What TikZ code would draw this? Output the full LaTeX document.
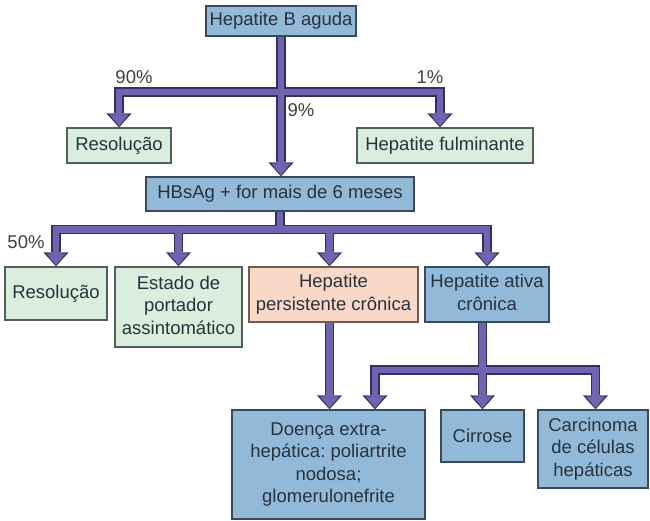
\documentclass[tikz,border=0pt]{standalone}
\usepackage{fontspec}
\setmainfont{Liberation Sans}
\usetikzlibrary{arrows.meta}

\definecolor{txt}{RGB}{40,50,62}
\definecolor{lbltxt}{RGB}{64,64,64}
\definecolor{grn}{RGB}{218,238,222}
\definecolor{grnb}{RGB}{80,95,88}
\definecolor{blu}{RGB}{146,186,216}
\definecolor{blub}{RGB}{58,74,92}
\definecolor{sal}{RGB}{250,216,200}
\definecolor{salb}{RGB}{110,92,86}
\definecolor{arrowc}{RGB}{110,100,176}
\definecolor{arrowb}{RGB}{52,46,98}

% centred stack of lines inside a box
\newcommand\linesc[1]{\begin{tabular}{@{}c@{}}#1\end{tabular}}

% all flow connectors; drawn twice (dark rim, then purple core)
\newcommand\flowlines[1]{%
  \begin{scope}[#1]
    \draw[arrowhd] (hba.south) -- (hba.south |- hbs.north);
    \draw[arrowhd] (j1) -| (res1.north);
    \draw[arrowhd] (j1) -| ([xshift=-5pt]fulm.north);
    \draw (hbs.south) -- (j2);
    \draw[arrowhd] (j2) -| (res2.north);
    \draw[arrowhd] (j2) -| (est.north);
    \draw[arrowhd] (j2) -| ([xshift=-4pt]pers.north);
    \draw[arrowhd] (j2) -| (ativa.north);
    \draw[arrowhd] ([xshift=-4pt]pers.south) -- ([xshift=-4pt]pers.south |- doenca.north);
    \draw[arrowhd] (ativa.south -| cirr.north) -- (cirr.north);
    \draw[arrowhd] (j3) -| ([xshift=46.5pt]doenca.north);
    \draw[arrowhd] (j3) -| ([xshift=2.5pt]carc.north);
  \end{scope}}

\begin{document}
\begin{tikzpicture}[x=1pt,y=-1pt,
  box/.style={draw, line width=1.4pt, inner sep=0pt, text=txt,
    font=\fontsize{18.5}{22.5}\selectfont\frenchspacing},
  greenbox/.style={box, fill=grn, draw=grnb},
  bluebox/.style={box, fill=blu, draw=blub},
  salbox/.style={box, fill=sal, draw=salb},
  lbl/.style={text=lbltxt, font=\fontsize{18.5}{22.5}\selectfont, inner sep=0pt},
  rimpass/.style={draw=arrowb, line width=9.5pt,
    arrowhd/.style={-{Triangle[width=25pt,length=14pt,line width=0.4pt]}}},
  corepass/.style={draw=arrowc, line width=6.5pt,
    arrowhd/.style={shorten >=1.3pt, -{Triangle[width=19pt,length=11.5pt,line width=0.4pt]}}}
]
\useasboundingbox[fill=white] (0,0) rectangle (650,520);

% boxes
\node[bluebox, minimum width=150pt, minimum height=30pt] (hba) at (281,21) {Hepatite B aguda};
\node[greenbox, minimum width=104pt, minimum height=35pt] (res1) at (119,145.5) {Resolução};
\node[greenbox, minimum width=176pt, minimum height=35pt] (fulm) at (445,145.5) {Hepatite fulminante};
\node[bluebox, minimum width=268pt, minimum height=34pt] (hbs) at (280,194) {HBsAg + for mais de 6 meses};
\node[greenbox, minimum width=102pt, minimum height=53pt] (res2) at (56,293.5) {Resolução};
\node[greenbox, minimum width=127pt, minimum height=80pt] (est) at (178.5,307) {\linesc{Estado de\\portador\\assintomático}};
\node[salbox, minimum width=169pt, minimum height=55pt] (pers) at (333.5,294.5) {\linesc{Hepatite\\persistente crônica}};
\node[bluebox, minimum width=124pt, minimum height=55pt] (ativa) at (487,294.5) {\linesc{Hepatite ativa\\crônica}};
\node[bluebox, minimum width=193pt, minimum height=109pt] (doenca) at (328.5,464.5) {\linesc{Doença extra-\\hepática: poliartrite\\nodosa;\\glomerulonefrite}};
\node[bluebox, minimum width=83pt, minimum height=52pt] (cirr) at (482.5,436) {Cirrose};
\node[bluebox, minimum width=110pt, minimum height=78pt] (carc) at (593,449) {\linesc{Carcinoma\\de células\\hepáticas}};

% branching points
\coordinate (j1) at (hba.south |- 0,92);
\coordinate (j2) at (hbs.south |- 0,229.5);
\coordinate (j3) at (cirr.north |- 0,370);

\flowlines{rimpass}
\flowlines{corepass}

% percentages
\node[lbl] (p90) at (134,77) {90\%};
\node[lbl] (p1) at (430,77) {1\%};
\node[lbl] (p9) at (301,110) {9\%};
\node[lbl] (p50) at (26,242) {50\%};
\end{tikzpicture}
\end{document}
